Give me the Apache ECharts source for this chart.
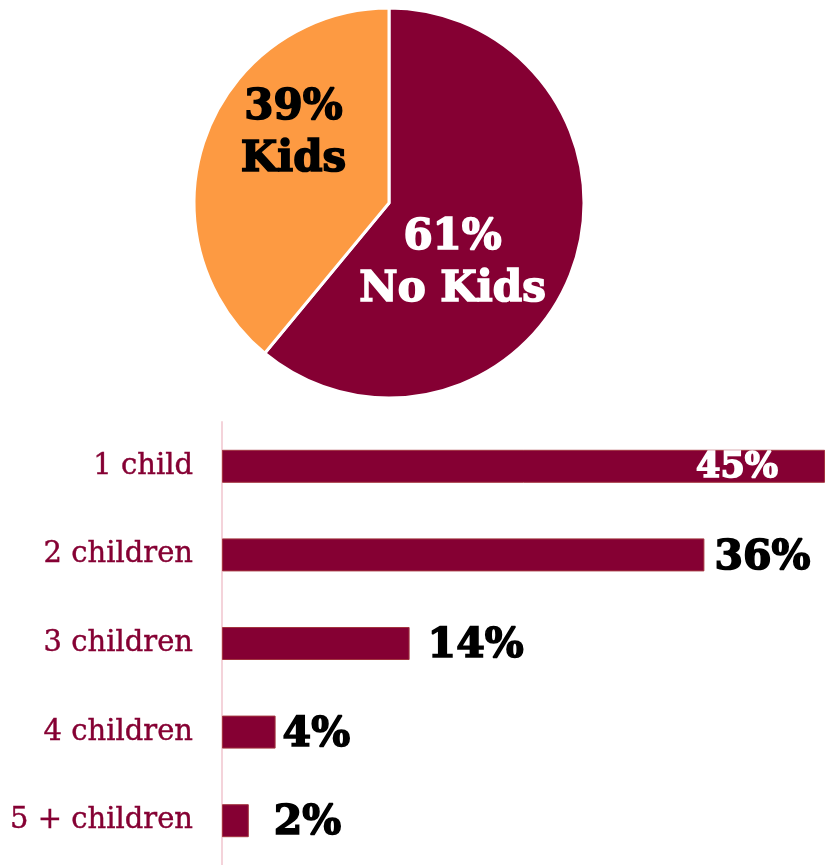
<!DOCTYPE html>
<html>
<head>
<meta charset="utf-8">
<script src="https://cdn.jsdelivr.net/npm/echarts@6/dist/echarts.min.js"></script>
<style>
  html, body { margin: 0; padding: 0; background: #ffffff; }
  #chart { width: 825px; height: 865px; }
</style>
</head>
<body>
<div id="chart"></div>
<script>
// Household split: with / without kids
const pieNames = ['No Kids', 'Kids'];
const pieValues = [61, 39];

// Number of children among households with kids
const childCategories = ['1 child', '2 children', '3 children', '4 children', '5 + children'];
const childValues = [45, 36, 14, 4, 2];

const WINE = '#850033';
const ORANGE = '#FD9A42';
const LABEL_FONT = '"DejaVu Serif", serif';

// per-item label placement for the pie
const pieLabelStyles = [
  { color: '#ffffff', textBorderColor: '#ffffff', offset: [-31, 27] },
  { color: '#000000', textBorderColor: '#000000', offset: [-1, -35] }
];
const pieColors = [WINE, ORANGE];

// per-item label placement for the bars
const barLabelStyles = [
  { position: 'insideRight', color: '#ffffff', textBorderColor: '#ffffff', fontSize: 35, offset: [-42, 2] },
  { position: 'right', distance: 10, offset: [0, 3] },
  { position: 'right', distance: 18, offset: [0, 3] },
  { position: 'right', distance: 7, offset: [0, 3] },
  { position: 'right', distance: 25, offset: [0, 3] }
];

const chart = echarts.init(document.getElementById('chart'), null, { renderer: 'canvas' });

chart.setOption({
  animation: false,
  backgroundColor: '#ffffff',
  grid: {
    left: 222,
    top: 422,
    width: 610.2,
    height: 446
  },
  xAxis: {
    type: 'value',
    min: 0,
    max: 45,
    show: false
  },
  yAxis: {
    type: 'category',
    data: childCategories,
    inverse: true,
    axisLine: { show: true, lineStyle: { color: '#F4D3DA', width: 2 } },
    axisTick: { show: false },
    axisLabel: {
      color: WINE,
      fontFamily: LABEL_FONT,
      fontSize: 29,
      margin: 29,
      padding: [5, 0, 0, 0],
      textBorderColor: WINE,
      textBorderWidth: 0.4
    }
  },
  series: [
    {
      type: 'pie',
      center: [389, 203],
      radius: [0, 195],
      startAngle: 90,
      clockwise: true,
      silent: true,
      itemStyle: { borderColor: '#ffffff', borderWidth: 3 },
      label: {
        show: true,
        position: 'inside',
        fontFamily: LABEL_FONT,
        fontWeight: 'bold',
        fontSize: 42,
        lineHeight: 52,
        align: 'center',
        textBorderWidth: 1.6,
        formatter: p => p.value + '%\n' + p.name
      },
      labelLine: { show: false },
      data: pieNames.map((n, i) => ({
        name: n,
        value: pieValues[i],
        itemStyle: { color: pieColors[i] },
        label: pieLabelStyles[i]
      }))
    },
    {
      type: 'bar',
      barWidth: 33,
      silent: true,
      itemStyle: { color: WINE, borderColor: '#A3343F', borderWidth: 1 },
      label: {
        show: true,
        position: 'right',
        color: '#000000',
        fontFamily: LABEL_FONT,
        fontWeight: 'bold',
        fontSize: 41,
        textBorderColor: '#000000',
        textBorderWidth: 1.6,
        formatter: p => p.value + '%'
      },
      data: childValues.map((v, i) => ({ value: v, label: barLabelStyles[i] }))
    }
  ]
});
</script>
</body>
</html>
